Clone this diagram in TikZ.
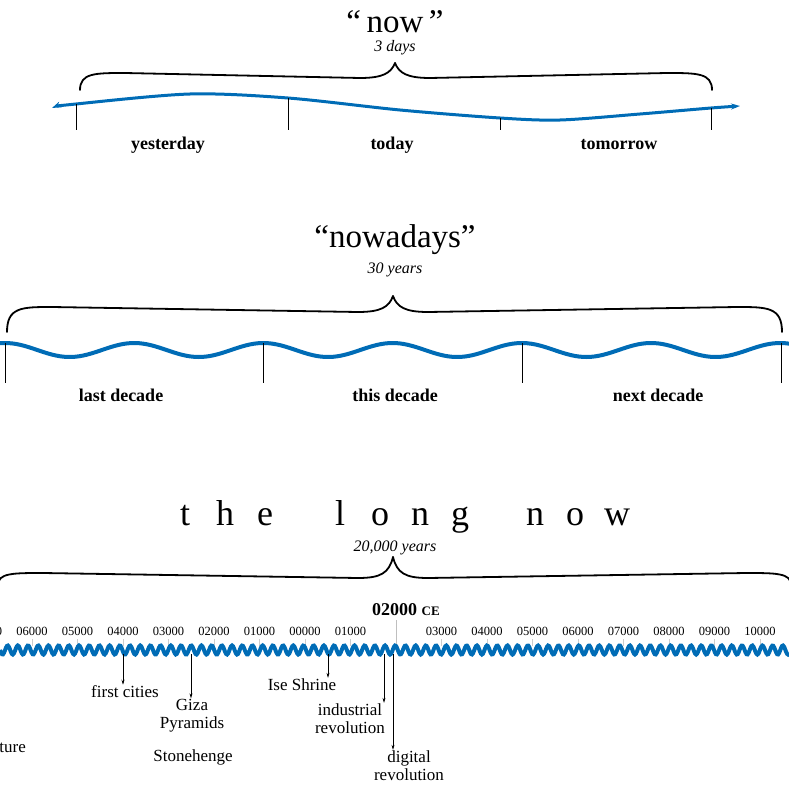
\documentclass[tikz,border=0pt]{standalone}
\usepackage{fontspec}
\setmainfont{Liberation Serif}
\usepackage{tikz}
\usetikzlibrary{arrows.meta}
\definecolor{wave}{RGB}{0,108,182}

\tikzset{
  title/.style={font=\fontsize{33}{35}\selectfont},
  span/.style={font=\fontsize{16}{18}\selectfont\itshape},
  period/.style={font=\fontsize{18}{20}\selectfont\bfseries},
  year/.style={font=\fontsize{12.5}{14}\selectfont},
  event/.style={font=\fontsize{17}{18}\selectfont, align=center, inner sep=1pt},
  bracket/.style={line width=1.8pt, line cap=round},
  tick/.style={line width=0.6pt},
  pointer/.style={line width=0.6pt, -{Stealth[length=5pt,width=3pt]}},
  waveline/.style={wave, line width=4pt}
}

\begin{document}
\begin{tikzpicture}[x=1pt, y=-1pt]
\useasboundingbox (0,0) rectangle (789,789);
% brace: left x, right x, tip x, tip y, top y, end y
\def\Brace#1#2#3#4#5#6{
\draw[bracket] (#1,#6) .. controls (#1,#5) and (#1+15,#5) .. (#1+45,#5)
  -- (#3-35,#5+5) .. controls (#3-12,#5+5) and (#3-4,#5) .. (#3,#4);
\draw[bracket] (#2,#6) .. controls (#2,#5) and (#2-15,#5) .. (#2-45,#5)
  -- (#3+35,#5+5) .. controls (#3+12,#5+5) and (#3+4,#5) .. (#3,#4);
}

% "now"
\node[title] (now) at (395,22) {``\,now\,''};
\node[span] (nowspan) at (395,48) {3 days};
\Brace{80}{712}{395}{63}{73}{90}
\draw[waveline, line width=3pt, {Stealth[length=9pt,width=6pt]}-{Stealth[length=9pt,width=6pt]}]
  plot[smooth] coordinates {(52,108) (76,104) (190,94) (288,98) (400,110) (500,118) (560,120) (640,114) (711,108) (740,106)};
\foreach \x/\y in {76/104, 288/98, 500/118, 711/108}
  \draw[tick] (\x,\y) -- (\x,130);
\node[period] (yesterday) at (168,145) {yesterday};
\node[period] (today) at (392,145) {today};
\node[period] (tomorrow) at (619,145) {tomorrow};

% "nowadays"
\node[title] (nowadays) at (395,240) {``nowadays''};
\node[span] (nowadaysspan) at (395,270) {30 years};
\Brace{7}{782}{393}{296}{307}{332}
\draw[waveline] plot[domain=0:789, samples=200] (\x, {350-7*cos(2.7864*mod(\x-5+129.2,129.2))});
\foreach \x in {5, 263, 522, 781}
  \draw[tick] (\x,343) -- (\x,383);
\node[period] (lastdecade) at (121,395) {last decade};
\node[period] (thisdecade) at (395,395) {this decade};
\node[period] (nextdecade) at (658,395) {next decade};

% the long now
\foreach \c/\x in {t/185, h/225, e/265, l/340, o/380, n/420, g/460, n/535, o/575, w/617}
  \node[title, font=\fontsize{36}{38}\selectfont, anchor=base] (letter\x) at (\x,525) {\c};
\node[span] (longspan) at (395,548) {20,000 years};
\Brace{-2}{791}{393}{557}{573}{585}
\node[font=\fontsize{18}{20}\selectfont\bfseries] (ce) at (406,610) {02000 {\fontsize{13}{15}\selectfont CE}};
\draw[black!25, line width=0.8pt] (396,620) -- (396,650);
\foreach \yr [count=\i from -9] in {07000,06000,05000,04000,03000,02000,01000,00000,01000}
  {
  \node[year] (yr\i) at (396+45.5*\i,631) {\yr};
  \draw[black!20, line width=0.6pt] (396+45.5*\i,639) -- (396+45.5*\i,646);
  }
\foreach \yr [count=\i] in {03000,04000,05000,06000,07000,08000,09000,10000,11000}
  {
  \node[year] (yrp\i) at (396+45.5*\i,631) {\yr};
  \draw[black!20, line width=0.6pt] (396+45.5*\i,639) -- (396+45.5*\i,646);
  }
\draw[waveline] plot[domain=0:789, samples=800] (\x, {650+4.5*sin(35.294*mod(\x,10.2))});

\coordinate (citiesp) at (123,654);
\coordinate (gizap) at (191,654);
\coordinate (isep) at (328,654);
\coordinate (industp) at (384,654);
\coordinate (digitp) at (393,654);
\node[event] (cities) at (125,692) {first cities};
\node[event] (giza) at (192,716) {Giza\\Pyramids};
\node[event] (ise) at (302,685) {Ise Shrine};
\node[event] (indust) at (350,719) {industrial\\revolution};
\node[event] (digit) at (409,766) {digital\\revolution};
\node[event] (stone) at (193,757) {Stonehenge};
\node[event, anchor=east] (agri) at (27,748) {agriculture};
\draw[pointer] (citiesp) -- (cities.north -| citiesp);
\draw[pointer] (gizap) -- (giza.north -| gizap);
\draw[pointer] (isep) -- (ise.north -| isep);
\draw[pointer] (industp) -- (indust.north -| industp);
\draw[pointer] (digitp) -- (digit.north -| digitp);
\end{tikzpicture}
\end{document}
